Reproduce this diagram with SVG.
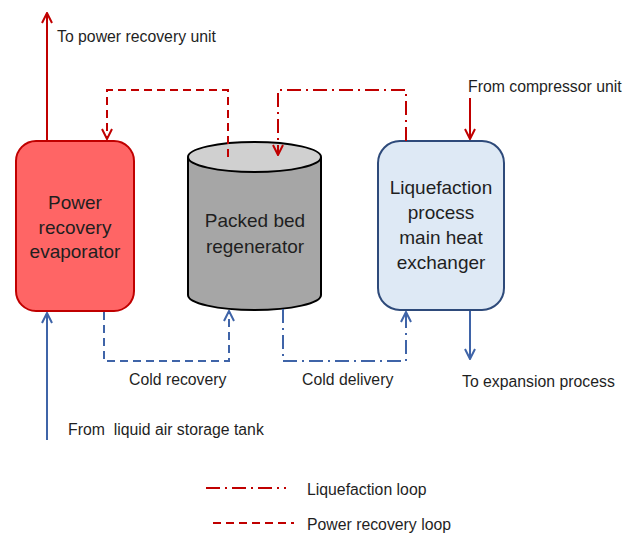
<svg xmlns="http://www.w3.org/2000/svg" width="623" height="533" viewBox="0 0 623 533">
<defs>
<marker id="ar" viewBox="0 0 12 12" refX="11" refY="6" markerWidth="12" markerHeight="12" markerUnits="userSpaceOnUse" orient="auto">
<path d="M1,1 L11,6 L1,11" fill="none" stroke="#C00000" stroke-width="2"/>
</marker>
<marker id="ab" viewBox="0 0 12 12" refX="11" refY="6" markerWidth="12" markerHeight="12" markerUnits="userSpaceOnUse" orient="auto">
<path d="M1,1 L11,6 L1,11" fill="none" stroke="#3F64A8" stroke-width="2"/>
</marker>
</defs>
<style>
text{font-family:"Liberation Sans",Arial,sans-serif;fill:#1f1f1f}
.s{font-size:15.8px}
.b{font-size:19px;text-anchor:middle}
.r{stroke:#C00000;stroke-width:2;fill:none}
.bl{stroke:#3F64A8;stroke-width:2;fill:none}
.dash{stroke-dasharray:8 5}
.dd{stroke-dasharray:14 5 2 5}
</style>
<rect width="623" height="533" fill="#fff"/>
<g id="evaporator">
<rect x="16" y="141" width="118" height="170" rx="20" fill="#FF6565" stroke="#C00000" stroke-width="2"/>
<text class="b" x="75" y="209">Power</text>
<text class="b" x="75" y="234">recovery</text>
<text class="b" x="75" y="258">evaporator</text>
</g>
<g id="regenerator">
<path d="M188,157 L188,295 A66.5,15 0 0 0 321,295 L321,157" fill="#A6A6A6" stroke="#000" stroke-width="2"/>
<ellipse cx="254.5" cy="157" rx="66.5" ry="15" fill="#D0D0D0" stroke="#000" stroke-width="2"/>
<text class="b" x="255" y="227">Packed bed</text>
<text class="b" x="255" y="253">regenerator</text>
</g>
<g id="heatexchanger">
<rect x="378" y="141" width="126" height="169" rx="22" fill="#DEE9F5" stroke="#2E4A7A" stroke-width="2"/>
<text class="b" x="441" y="194">Liquefaction</text>
<text class="b" x="441" y="219">process</text>
<text class="b" x="441" y="244">main heat</text>
<text class="b" x="441" y="269">exchanger</text>
</g>
<g id="connectors">
<path class="r" d="M47,141 L47,13" marker-end="url(#ar)"/>
<path class="r dash" d="M228,157 L228,90 L107,90 L107,139" marker-end="url(#ar)"/>
<path class="r dd" d="M406,141 L406,90 L278,90 L278,155" marker-end="url(#ar)"/>
<path class="r" d="M470,98 L470,139" marker-end="url(#ar)"/>
<path class="bl" d="M47,440 L47,313" marker-end="url(#ab)"/>
<path class="bl dash" d="M104,312 L104,361 L229,361 L229,311" marker-end="url(#ab)"/>
<path class="bl dd" d="M283,309 L283,361 L406,361 L406,312" marker-end="url(#ab)"/>
<path class="bl" d="M470,311 L470,359" marker-end="url(#ab)"/>
</g>
<g id="labels">
<text class="s" x="57" y="42">To power recovery unit</text>
<text class="s" x="468" y="92">From compressor unit</text>
<text class="s" x="129" y="385">Cold recovery</text>
<text class="s" x="302" y="385">Cold delivery</text>
<text class="s" x="462" y="387">To expansion process</text>
<text class="s" x="68" y="435" style="white-space:pre">From  liquid air storage tank</text>
</g>
<g id="legend">
<path class="r dd" d="M206,488 L286,488"/>
<path class="r dash" d="M213,523 L294,523"/>
<text class="s" x="307" y="495">Liquefaction loop</text>
<text class="s" x="307" y="530">Power recovery loop</text>
</g>
</svg>
